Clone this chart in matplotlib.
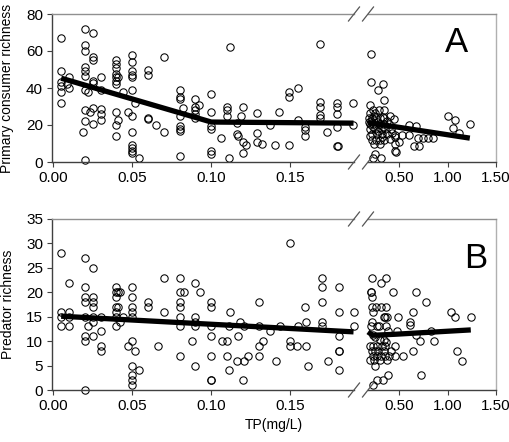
import numpy as np
import matplotlib
matplotlib.use("Agg")
from matplotlib import pyplot as plt
from matplotlib.lines import Line2D

plt.rcParams['font.family'] = ['Liberation Sans', 'DejaVu Sans']

# ---- data ----
# panel A, TP below the break (mg/L) and primary consumer richness
a_low_x = [0.005, 0.005, 0.005, 0.005, 0.005, 0.005, 0.01, 0.01, 0.009,
           0.02, 0.02, 0.02, 0.02, 0.02, 0.02, 0.02, 0.02, 0.02, 0.019, 0.02,
           0.025, 0.025, 0.025, 0.025, 0.025, 0.025, 0.023, 0.025, 0.022,
           0.03, 0.03, 0.03, 0.03, 0.03,
           0.04, 0.04, 0.04, 0.04, 0.04, 0.04, 0.04, 0.04, 0.04, 0.04, 0.041, 0.041, 0.044,
           0.05, 0.05, 0.05, 0.05, 0.05, 0.05, 0.05, 0.05, 0.05, 0.05, 0.05, 0.05, 0.047, 0.052, 0.054,
           0.06, 0.06, 0.06, 0.06, 0.065, 0.07, 0.07,
           0.08, 0.08, 0.08, 0.08, 0.08, 0.08, 0.08, 0.08, 0.082,
           0.09, 0.09, 0.09, 0.09, 0.09, 0.092,
           0.1, 0.1, 0.1, 0.1, 0.1, 0.1, 0.106,
           0.112, 0.11, 0.11, 0.11, 0.111, 0.116, 0.116, 0.117,
           0.12, 0.12, 0.12, 0.119, 0.122,
           0.129, 0.129, 0.129, 0.132, 0.137, 0.1405, 0.1426,
           0.149, 0.149, 0.149, 0.1546, 0.155, 0.159, 0.159, 0.159,
           0.169, 0.169, 0.169, 0.169, 0.169, 0.173,
           0.1796, 0.1796, 0.1796, 0.1796, 0.1796, 0.1803, 0.1897, 0.1897]
a_low_y = [67, 49, 43.5, 41, 38, 32, 46, 40, 42,
           72, 63, 60, 51.6, 49.4, 46.5, 39, 28, 22, 16, 1,
           70, 57, 55, 44, 42.6, 29, 27, 20.5, 38,
           46, 39, 28.6, 26, 22.5,
           55, 53, 51, 47.5, 46, 44, 42, 20, 27, 14, 46, 22.5, 38,
           58, 54, 49, 47, 46, 39, 25, 16, 9, 7.5, 6, 5, 27, 32, 2,
           50, 47, 24, 23, 20, 57, 16,
           39, 35, 34, 25, 19.6, 18, 16.5, 3.4, 29,
           34, 30, 28, 26, 24, 31,
           37, 27, 19.6, 18, 5.7, 4.5, 13,
           62, 30, 28, 25, 2, 15, 21, 14,
           30, 5, 10.6, 25, 9.4,
           26.4, 15.6, 10.6, 9.9, 20, 9.3, 27,
           38, 35, 9.3, 40, 22.5, 19, 17.4, 14,
           64, 32.4, 30, 25.5, 24, 16,
           32, 30, 26, 18.7, 8.4, 8.4, 32, 20]

# panel A, TP above the break
a_high_x = [0.211, 0.208, 0.287, 0.33, 0.35,
            0.2, 0.235, 0.29, 0.345, 0.2, 0.25, 0.335, 0.41, 0.19, 0.22, 0.26, 0.3, 0.35, 0.45,
            0.2, 0.235, 0.29, 0.345, 0.4, 0.2, 0.25, 0.31, 0.36, 0.42,
            0.22, 0.27, 0.325, 0.38, 0.46, 0.22, 0.26, 0.3, 0.35, 0.405,
            0.24, 0.3, 0.46, 0.5, 0.19, 0.21, 0.23, 0.27, 0.33, 0.38, 0.24, 0.28, 0.32, 0.2, 0.43,
            0.25, 0.31, 0.23, 0.47, 0.53, 0.6, 0.67, 0.6, 0.7, 0.75, 0.8, 0.85,
            0.65, 0.71, 1.01, 1.08, 1.06, 1.12, 1.23, 0.46, 0.46]
a_high_y = [58.4, 43.5, 39, 42, 33.6,
            30.8, 28, 28, 28, 26.7, 26.7, 24.5, 25, 23.6, 23.6, 23.6, 23.6, 23.6, 23,
            20.3, 20.3, 20.3, 20.3, 20.3, 17.6, 17.6, 17.6, 17.6, 17.6,
            15, 15, 15, 15, 14.4, 12, 12, 12, 12, 12.5,
            9.9, 9.9, 10, 10.6, 21.5, 22, 19, 21.5, 19, 22, 25, 16.5, 13.5, 14, 15.5,
            4.5, 2, 2, 5.2, 14.7, 20, 19.6, 14.7, 13, 13, 13, 13,
            8.4, 8.4, 25, 22.5, 18.3, 15.6, 20.3, 13.7, 6]

# panel B, predator richness
b_low_x = [0.005, 0.005, 0.005, 0.005, 0.01, 0.01, 0.01, 0.01,
           0.02, 0.02, 0.02, 0.02, 0.02, 0.02, 0.02, 0.02, 0.022,
           0.025, 0.025, 0.025, 0.025, 0.025, 0.025, 0.025,
           0.03, 0.03, 0.03, 0.03,
           0.04, 0.04, 0.04, 0.04, 0.04, 0.04, 0.04, 0.041, 0.041, 0.042, 0.042, 0.044, 0.047,
           0.05, 0.05, 0.05, 0.05, 0.05, 0.05, 0.05, 0.05, 0.05, 0.05, 0.052, 0.054,
           0.06, 0.06, 0.066, 0.07, 0.07,
           0.08, 0.08, 0.08, 0.08, 0.08, 0.08, 0.08, 0.083, 0.088,
           0.09, 0.09, 0.09, 0.09, 0.09, 0.093,
           0.1, 0.1, 0.1, 0.1, 0.1, 0.1, 0.1,
           0.107, 0.11, 0.11, 0.111, 0.111, 0.112,
           0.117, 0.118, 0.116, 0.12, 0.121, 0.121, 0.123,
           0.13, 0.13, 0.13, 0.13, 0.1325, 0.137, 0.141, 0.1435,
           0.15, 0.15, 0.15, 0.155, 0.1545, 0.16, 0.1595, 0.16, 0.161,
           0.17, 0.17, 0.17, 0.17, 0.17, 0.174,
           0.1805, 0.1805, 0.1805, 0.1805, 0.181, 0.1805, 0.1906, 0.1906]
b_low_y = [28, 16, 15, 13, 22, 16, 15, 13,
           27, 21, 19, 18, 15, 11, 10, 0, 13,
           25, 19, 18, 17, 15, 14, 11,
           15, 12, 9, 8,
           21, 20, 19, 17, 16, 15, 13, 20, 17, 20, 14, 15, 9,
           21, 19, 17, 16, 15, 10, 5, 3, 2, 1, 8, 4,
           18, 17, 9, 23, 16,
           23, 20, 18, 17, 15, 13, 7, 20, 10,
           22, 15, 14, 13, 5, 20,
           18, 17, 13, 11, 7, 2, 2,
           10, 10, 7, 4, 13, 16,
           11, 14, 6, 2, 6, 13, 7,
           18, 13, 9, 7, 10, 12, 6, 13,
           30, 10, 9, 13, 9, 9, 17, 14, 5,
           23, 21, 18, 14, 13, 6,
           21, 16, 11, 8, 8, 4, 16, 13]

b_high_x = [0.218, 0.31, 0.366, 0.21, 0.215, 0.22, 0.435, 0.68, 0.775,
            0.22, 0.26, 0.31, 0.37, 0.235, 0.34, 0.36, 0.38, 0.49, 0.64,
            0.61, 0.61, 0.22, 0.21, 0.27, 0.29, 0.37, 0.39, 0.48,
            0.235, 0.25, 0.3, 0.34, 0.37, 0.83, 0.67, 0.72, 0.86,
            0.2, 0.235, 0.27, 0.32, 0.36, 0.46,
            0.22, 0.25, 0.28, 0.34, 0.42, 0.64,
            0.235, 0.27, 0.31, 0.36, 0.4, 0.46, 0.54,
            0.2, 0.24, 0.3, 0.38, 0.25,
            1.095, 1.15, 0.73, 0.27, 0.33, 0.39, 0.235,
            1.04, 1.08, 1.24]
b_high_y = [23, 22, 23, 20, 20, 19, 20, 20, 18,
            17, 17, 17, 17, 16, 15, 15, 15, 15, 16,
            14, 13.3, 14, 13, 13, 13, 13, 12, 12,
            11.3, 10.9, 10.2, 10.2, 9.9, 12, 11.3, 10, 10,
            9, 9, 9, 9, 9, 9,
            8, 8, 8, 8, 8, 8,
            7, 7, 7, 7, 7, 7, 7,
            6.1, 6.1, 6.1, 6.1, 5,
            8, 6, 3, 2, 2, 3, 1,
            16, 15, 15]

# fitted segments
a_fit_low_x = [0.005, 0.10, 0.19]
a_fit_low_y = [45.3, 21.6, 21.0]
a_fit_high_x = [0.18, 1.23]
a_fit_high_y = [21.3, 12.9]
b_fit_low_x = [0.005, 0.19]
b_fit_low_y = [15.1, 11.9]
b_fit_high_x = [0.18, 0.23, 0.45, 1.24]
b_fit_high_y = [11.9, 11.2, 11.4, 12.3]

low_ticks = [0.0, 0.05, 0.10, 0.15]
low_labels = ['0.00', '0.05', '0.10', '0.15']
high_ticks = [0.5, 1.0, 1.5]
high_labels = ['0.50', '1.00', '1.50']

# ---- layout (pixel based) ----
W, H = 510, 442
dark = '#404040'


def box(x0, y0, x1, y1):
    return [x0 / W, 1 - y1 / H, (x1 - x0) / W, (y1 - y0) / H]


def style(ax, low):
    ax.spines['left'].set_color(dark)
    ax.spines['bottom'].set_color(dark)
    ax.spines['top'].set_color('#909090')
    ax.spines['right'].set_color('#b0b0b0')
    for s in ax.spines.values():
        s.set_linewidth(1.0)
    ax.tick_params(direction='out', length=3.5, width=0.8, color=dark,
                   labelsize=11, pad=3)
    if low:
        ax.spines['right'].set_visible(False)
        ax.set_xlim(-0.0008, 0.1903)
        ax.set_xticks(low_ticks, low_labels)
    else:
        ax.spines['left'].set_visible(False)
        ax.set_xlim(0.18, 1.5)
        ax.set_xticks(high_ticks, high_labels)
        ax.set_yticks([])


def panel(y0, y1, lx, ly, hx, hy, flx, fly, fhx, fhy, ylim, yticks):
    axl = fig.add_axes(box(52, y0, 354, y1))
    axr = fig.add_axes(box(368, y0, 496, y1))
    for ax, x, y, fx, fy in [(axl, lx, ly, flx, fly), (axr, hx, hy, fhx, fhy)]:
        ax.plot(x, y, 'o', mfc='none', mec='black', ms=5.3, mew=0.75, clip_on=False)
        ax.plot(fx, fy, '-', color='black', lw=3.8, solid_capstyle='butt', clip_on=False)
        ax.set_ylim(*ylim)
    axl.set_yticks(yticks)
    style(axl, True)
    style(axr, False)
    # break marks
    for yy in (y0, y1):
        for xc in (354, 368):
            fig.add_artist(Line2D([(xc - 5.5) / W, (xc + 5.5) / W],
                                  [1 - (yy + 7) / H, 1 - (yy - 7) / H],
                                  transform=fig.transFigure, color='#555555', lw=0.9))
    return axl, axr


fig = plt.figure(figsize=(5.1, 4.42), dpi=100)

panel(14, 162, a_low_x, a_low_y, a_high_x, a_high_y,
      a_fit_low_x, a_fit_low_y, a_fit_high_x, a_fit_high_y, (0, 80), [0, 20, 40, 60, 80])
panel(219, 390, b_low_x, b_low_y, b_high_x, b_high_y,
      b_fit_low_x, b_fit_low_y, b_fit_high_x, b_fit_high_y, (0, 35), [0, 5, 10, 15, 20, 25, 30, 35])

fig.text(7 / W, 1 - 88 / H, 'Primary consumer richness', rotation=90,
         ha='center', va='center', fontsize=10)
fig.text(8 / W, 1 - 304 / H, 'Predator richness', rotation=90,
         ha='center', va='center', fontsize=10)
fig.text(274 / W, 1 - 425 / H, 'TP(mg/L)', ha='center', va='center', fontsize=10)
fig.text(457 / W, 1 - 42 / H, 'A', ha='center', va='center', fontsize=25)
fig.text(476 / W, 1 - 258 / H, 'B', ha='center', va='center', fontsize=25)

fig.savefig('out.png', dpi=100)
